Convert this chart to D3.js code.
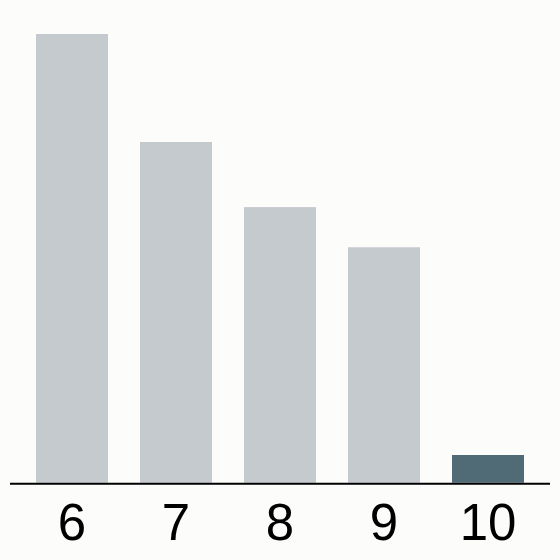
<!DOCTYPE html>
<html>
<head>
<meta charset="utf-8">
<script src="https://cdn.jsdelivr.net/npm/d3@7"></script>
<style>
  html, body { margin: 0; padding: 0; background: #fcfcfa; }
  svg { display: block; }
</style>
</head>
<body>
<svg id="chart"></svg>
<script>
// data
const categories = ["6", "7", "8", "9", "10"];
const values = [16.2, 12.3, 9.95, 8.5, 1.0];
const highlight = "10";

const width = 560;
const height = 560;
const baseline = 482.7;

const svg = d3.select("#chart")
  .attr("width", width)
  .attr("height", height);

svg.append("rect")
  .attr("width", width)
  .attr("height", height)
  .attr("fill", "#fcfcfa");

const x = d3.scaleBand()
  .domain(categories)
  .range([20, 540])
  .paddingInner(32 / 104)
  .paddingOuter(16 / 104);

const y = d3.scaleLinear()
  .domain([0, d3.max(values)])
  .range([baseline, 34]);

const data = categories.map((c, i) => ({ cat: c, value: values[i] }));

svg.selectAll("rect.bar")
  .data(data)
  .enter()
  .append("rect")
  .attr("class", "bar")
  .attr("x", d => x(d.cat))
  .attr("y", d => y(d.value))
  .attr("width", x.bandwidth())
  .attr("height", d => baseline - y(d.value))
  .attr("fill", d => d.cat === highlight ? "#506b76" : "#c5cacf");

// baseline
svg.append("line")
  .attr("x1", 10)
  .attr("x2", 550)
  .attr("y1", 483.7)
  .attr("y2", 483.7)
  .attr("stroke", "#000")
  .attr("stroke-width", 2);

svg.selectAll("text.tick")
  .data(categories)
  .enter()
  .append("text")
  .attr("class", "tick")
  .attr("x", d => x(d) + x.bandwidth() / 2)
  .attr("y", 539.5)
  .attr("text-anchor", "middle")
  .attr("font-family", "Liberation Sans, Arial, sans-serif")
  .attr("font-size", "51px")
  .attr("fill", "#000")
  .text(d => d);
</script>
</body>
</html>
